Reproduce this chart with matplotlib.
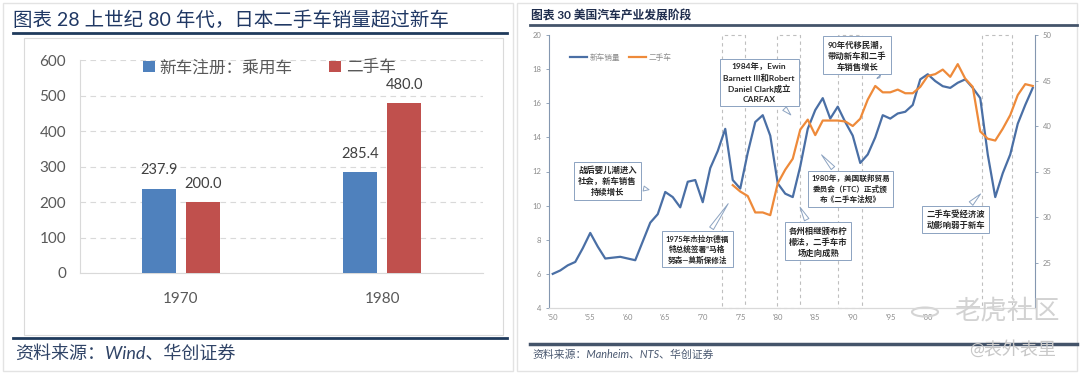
import matplotlib
matplotlib.use("Agg")
import matplotlib.pyplot as plt
from matplotlib.lines import Line2D
from matplotlib.patches import Rectangle, Circle

plt.rcParams['font.family'] = ['Lato', 'Noto Sans CJK SC', 'DejaVu Sans']

# 左图：日本新车 / 二手车
jp_years = ['1970', '1980']
jp_new = [237.9, 285.4]
jp_used = [200.0, 480.0]

# 右图：美国新车销量（百万辆，左轴）与二手车（百万辆，右轴）
us_years = list(range(1950, 2015))
us_new = [6.0, 6.2, 6.5, 6.7, 7.5, 8.4, 7.6, 6.9, 6.95, 7.0,
          6.9, 6.8, 7.9, 9.0, 9.5, 10.8, 10.5, 9.9, 11.4, 11.5,
          10.2, 12.2, 13.2, 14.5, 11.5, 11.0, 13.1, 14.9, 15.3, 14.1,
          11.3, 10.7, 10.5, 12.3, 14.5, 15.6, 16.3, 15.1, 15.8, 14.9,
          14.1, 12.5, 13.0, 14.0, 15.3, 15.1, 15.4, 15.5, 15.9, 17.4,
          17.7, 17.3, 17.0, 16.9, 17.2, 17.4, 16.9, 16.3, 13.0, 10.5,
          11.9, 13.0, 14.8, 15.9, 16.9]
used_years = list(range(1974, 2015))
us_used = [33.5, 32.8, 32.3, 30.5, 30.5, 30.2, 33.7, 35.2, 36.4, 39.6,
           40.7, 39.0, 40.6, 40.6, 40.6, 40.5, 40.0, 40.8, 42.9, 44.4,
           43.7, 43.7, 44.0, 43.6, 43.6, 44.3, 45.5, 45.7, 46.2, 45.4,
           46.8, 45.2, 44.3, 39.4, 38.6, 38.4, 39.7, 41.2, 43.4, 44.6, 44.4]
periods = [(1972.5, 1975.6), (1979.9, 1982.9), (1988.0, 1991.2), (2007.2, 2011.3)]

notes = [
    ('战后婴儿潮进入\n社会，新车销售\n持续增长', (1957.3, 11.45), (1963.2, 10.9), 6),
    ('1984年，Ewin\nBarnett III和Robert\nDaniel Clark成立\nCARFAX', (1977.5, 17.2), (1982.0, 15.2), 6),
    ('90年代移民潮，\n带动新车和二手\n车销售增长', (1990.6, 18.8), (1993.6, 17.5), 6),
    ('1975年杰拉尔德福\n特总统签署“马格\n努森—莫斯保修法', (1969.3, 7.45), (1973.6, 10.25), 5.5),
    ('1980年，美国联邦贸易\n委员会（FTC）正式颁\n布《二手车法规》', (1989.7, 11.0), (1985.6, 13.1), 5.5),
    ('各州相继颁布柠\n檬法，二手车市\n场走向成熟', (1985.4, 7.9), (1982.8, 10.05), 6),
    ('二手车受经济波\n动影响弱于新车', (2003.7, 9.2), (2007.3, 10.8), 6),
]

W, H = 1080, 374
fig = plt.figure(figsize=(10.8, 3.74), dpi=100)


def fx(x):
    return x / W


def fy(y):
    return 1 - y / H


def hline(x0, x1, y, color, lw):
    fig.add_artist(Line2D([fx(x0), fx(x1)], [fy(y), fy(y)], color=color, lw=lw,
                          transform=fig.transFigure))


# 外框
fig.add_artist(Rectangle((fx(3), fy(371)), fx(510), 368 / H, fill=False, ec='#E3E3E3', lw=1,
                         transform=fig.transFigure))
fig.add_artist(Rectangle((fx(517), fy(371)), fx(560), 368 / H, fill=False, ec='#E3E3E3', lw=1,
                         transform=fig.transFigure))
fig.add_artist(Rectangle((fx(24), fy(335)), fx(479), 297 / H, fill=False, ec='#DADADA', lw=0.8,
                         transform=fig.transFigure))

# ---------- 左图 ----------
fig.text(fx(13), fy(20), '图表 28 上世纪 80 年代，日本二手车销量超过新车', fontsize=14,
         color='#203864', va='center', ha='left')
hline(13, 507, 33, '#1F3A5C', 2)
hline(13, 507, 338, '#1F3A5C', 2)
fig.text(fx(15), fy(353), '资料来源：Wind、华创证券', fontsize=13, color='#2F4366',
         style='italic', va='center', ha='left')

ax1 = fig.add_axes([fx(80), fy(273), fx(403), 213 / H])
pos = range(len(jp_years))
bw = 0.169
off = 0.109
b1 = ax1.bar([p - off for p in pos], jp_new, bw, color='#4F81BD', label='新车注册：乘用车', zorder=3)
b2 = ax1.bar([p + off for p in pos], jp_used, bw, color='#C0504D', label='二手车', zorder=3)
for bars in (b1, b2):
    for r in bars:
        ax1.annotate(f'{r.get_height():.1f}', (r.get_x() + r.get_width() / 2, r.get_height()),
                     xytext=(0, 13), textcoords='offset points', ha='center', va='center',
                     fontsize=10.5, color='#404040')
ax1.set_xlim(-0.5, 1.5)
ax1.set_ylim(0, 600)
ax1.set_yticks(range(0, 601, 100))
ax1.set_xticks(list(pos))
ax1.set_xticklabels(jp_years)
ax1.tick_params(axis='both', length=0, labelsize=11, labelcolor='#595959')
ax1.tick_params(axis='x', pad=14)
ax1.tick_params(axis='y', pad=10)
ax1.grid(axis='y', ls=(0, (5, 4)), color='#D9D9D9', lw=0.8, zorder=0)
for s in ('top', 'right'):
    ax1.spines[s].set_visible(False)
ax1.spines['left'].set_color('#D9D9D9')
ax1.spines['bottom'].set_color('#D9D9D9')
ax1.legend(loc='center', bbox_to_anchor=(0.47, 0.965), ncol=2, frameon=False, fontsize=12,
           labelcolor='#595959', handlelength=0.7, handleheight=0.7, handletextpad=0.3,
           columnspacing=2.2)

# ---------- 右图 ----------
fig.text(fx(531), fy(15), '图表 30 美国汽车产业发展阶段', fontsize=8.5, color='#1F2D4D',
         fontweight='bold', va='center', ha='left')
hline(530, 1077, 25, '#44546A', 2)
hline(530, 1077, 344, '#44546A', 2.5)
fig.text(fx(532), fy(354), '资料来源：Manheim、NTS、华创证券', fontsize=7.8, color='#4A5870',
         style='italic', va='center', ha='left')

ax2 = fig.add_axes([fx(549), fy(308), fx(486), 273 / H])
ax3 = ax2.twinx()
l1, = ax2.plot(us_years, us_new, color='#4A6FA5', lw=1.6, label='新车销量', zorder=3)
l2, = ax3.plot(used_years, us_used, color='#EE8A3A', lw=1.6, label='二手车', zorder=3)
ax2.set_xlim(1949.5, 2014.3)
ax2.set_ylim(4, 20)
ax3.set_ylim(20, 50)
ax2.set_yticks(range(4, 21, 2))
ax3.set_yticks(range(25, 51, 5))
ticks = list(range(1950, 2011, 5))
ax2.set_xticks(ticks)
# '05、'10 在原图中被水印遮住
ax2.set_xticklabels([f"'{t % 100:02d}" if t <= 2000 else '' for t in ticks])
for a in (ax2, ax3):
    a.tick_params(labelsize=5.5, labelcolor='#8C8C8C', length=2, color='#8497B0', width=0.6)
    a.spines['top'].set_visible(False)
    a.spines['bottom'].set_color('#D9D9D9')
ax2.tick_params(axis='x', length=0, pad=4)
ax2.spines['left'].set_color('#8497B0')
ax2.spines['right'].set_visible(False)
ax3.spines['left'].set_visible(False)
ax3.spines['right'].set_color('#8497B0')

for x0, x1 in periods:
    ax2.add_patch(Rectangle((x0, 4), x1 - x0, 16, fill=False, ec='#BFBFBF', lw=0.8,
                            ls=(0, (3, 3)), clip_on=False, zorder=2))

ax2.legend(handles=[l1, l2], loc='center left', bbox_to_anchor=(0.03, 0.92), ncol=2,
           frameon=False, fontsize=5.5, labelcolor='#8C8C8C', handlelength=2.2,
           handletextpad=0.3, columnspacing=1.2)

ax3.set_zorder(ax2.get_zorder() + 1)
for txt, xytext, xy, fs in notes:
    ax3.annotate(txt, xy=xy, xytext=xytext, xycoords=ax2.transData, textcoords=ax2.transData,
                 ha='center', va='center', fontsize=fs, fontweight='bold', color='#262626',
                 linespacing=1.35, zorder=6,
                 bbox=dict(boxstyle='square,pad=0.45', fc='white', ec='#8CA3C1', lw=0.7),
                 arrowprops=dict(arrowstyle='wedge,tail_width=0.6,shrink_factor=0.5',
                                 fc='white', ec='#8CA3C1', lw=0.7))

# 水印
fig.add_artist(Circle((fx(925), fy(312)), 13 / W, fill=False, ec='#D4D4D4', lw=1.5,
                      transform=fig.transFigure))
fig.text(fx(1007), fy(311), '老虎社区', fontsize=19, color='#D2D2D2', ha='center', va='center')
fig.text(fx(1013), fy(349), '@表外表里', fontsize=13, color='#C8C8C8', ha='center', va='center')

fig.savefig('out.png', dpi=100, facecolor='white')
